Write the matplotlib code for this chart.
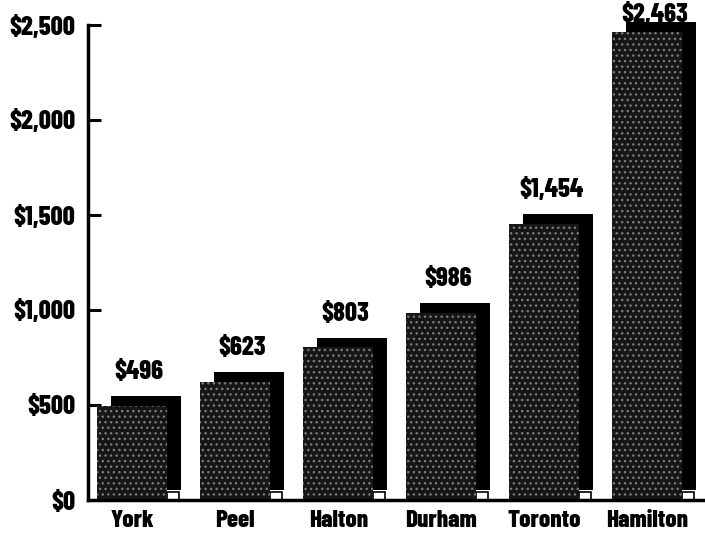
import matplotlib
matplotlib.use("Agg")
import matplotlib.pyplot as plt
from matplotlib.patches import Rectangle

regions = ["York", "Peel", "Halton", "Durham", "Toronto", "Hamilton"]
values = [496, 623, 803, 986, 1454, 2463]
labels = ["$496", "$623", "$803", "$986", "$1,454", "$2,463"]
yticks = [0, 500, 1000, 1500, 2000, 2500]
yticklabels = ["$0", "$500", "$1,000", "$1,500", "$2,000", "$2,500"]

FONT = ["Barlow Condensed", "DejaVu Sans"]

W, H = 705, 535
fig = plt.figure(figsize=(W / 100, H / 100), dpi=100)
ax = fig.add_axes([88 / W, 35 / H, 1 - 88 / W, 475 / H])

bw = 0.68   # front bar width
dx = 0.135  # shadow offset to the right
dy = 52     # shadow offset up (dollars)

for i, v in enumerate(values):
    x0 = i - bw / 2
    # black shadow behind
    ax.add_patch(Rectangle((x0 + dx, dy), bw, v, facecolor="black",
                           edgecolor="none", clip_on=False, zorder=2))
    # little white gap at bottom right
    ax.add_patch(Rectangle((x0 + bw, 0), dx * 0.85, dy * 0.8, facecolor="white",
                           edgecolor="black", lw=1.2, clip_on=False, zorder=3))
    # grainy front bar
    ax.add_patch(Rectangle((x0, 0), bw, v, facecolor="#161616",
                           edgecolor="#7a7a7a", hatch="...", lw=0,
                           clip_on=False, zorder=4))
    ty = min(v + dy + 126, 2555)
    ax.text(i + dx / 2, ty, labels[i], ha="center", va="center",
            fontsize=19, fontweight=800, family=FONT, stretch="condensed",
            clip_on=False, zorder=6)

ax.set_xlim(-0.43, 5.56)
ax.set_ylim(0, 2500)
ax.set_yticks(yticks)
ax.set_yticklabels(yticklabels, fontsize=19, fontweight=800, family=FONT,
                   stretch="condensed")
ax.set_xticks(range(len(regions)))
ax.set_xticklabels(regions, fontsize=18, fontweight=800, family=FONT,
                   stretch="condensed")
ax.tick_params(axis="y", direction="in", length=9, width=2.2, pad=9)
ax.tick_params(axis="x", length=0, pad=7)

for sp in ["top", "right"]:
    ax.spines[sp].set_visible(False)
ax.spines["left"].set_linewidth(2.5)
ax.spines["bottom"].set_linewidth(2.5)
ax.spines["bottom"].set_zorder(5)

fig.savefig("out.png", dpi=100)
